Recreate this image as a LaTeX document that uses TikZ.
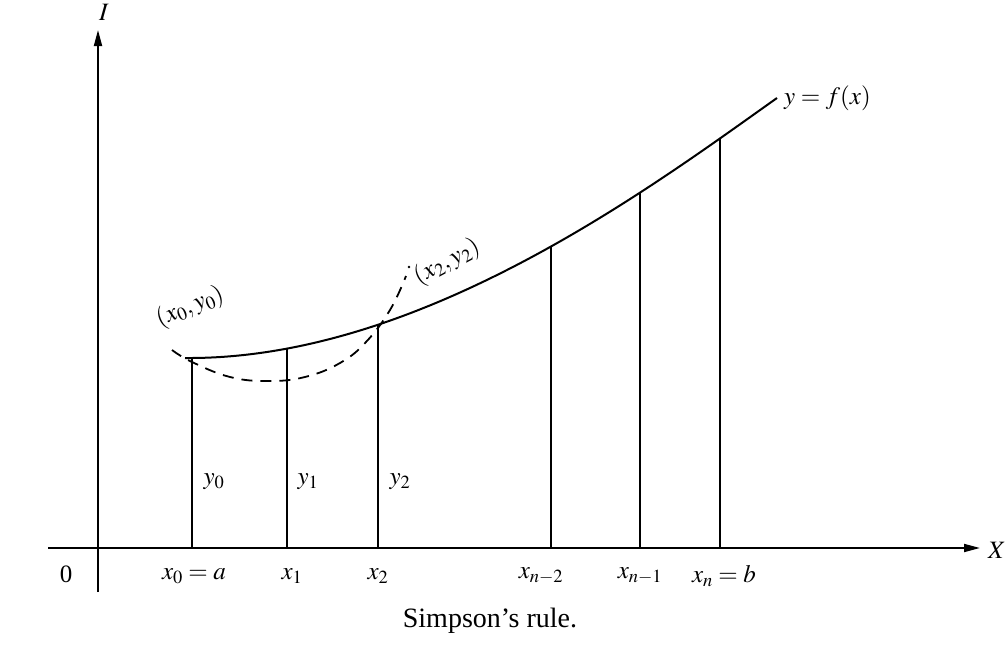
\documentclass[tikz,border=0pt]{standalone}
\usepackage{mathptmx}
\usepackage{fix-cm}
\usepackage{fontspec}
\setmainfont{Liberation Serif}
\usetikzlibrary{arrows.meta,intersections}
\begin{document}
\begin{tikzpicture}[x=1pt,y=-1pt,
  ax/.style={line width=1.8pt,-{Triangle[length=16pt,width=8pt]}},
  ord/.style={line width=1.8pt},
  crv/.style={line width=2pt},
  dsh/.style={line width=1.8pt,dash pattern=on 11pt off 8pt},
  lbl/.style={font=\fontsize{25}{29}\selectfont,inner sep=1pt},
  cpt/.style={font=\fontsize{28}{32}\selectfont,inner sep=1pt}]
\useasboundingbox (0,0) rectangle (1005,645);
% axes
\coordinate (xs) at (48,548);
\coordinate (xe) at (980,548);
\coordinate (ys) at (98,592);
\coordinate (ye) at (98,30);
\draw[ax] (xs) -- (xe);
\draw[ax] (ys) -- (ye);
\node[lbl] (Ilab) at (104,12) {$I$};
\node[lbl] (Xlab) at (997,550) {$X$};
\node[lbl] (zero) at (66,574) {0};
% curve
\draw[crv,name path=curve] (185,358) .. controls (420,360) and (650,188) .. (777,98);
% ordinates
\foreach \i/\xx in {0/192,1/287,2/378,3/551,4/640,5/720}{
  \coordinate (b\i) at (\xx,548);
  \path[name path=v\i] (\xx,548) -- (\xx,60);
  \path[name intersections={of=curve and v\i,by={t\i}}];
  \draw[ord] (t\i) -- (b\i);
}
% dashed parabola
\draw[dsh] plot[smooth,tension=0.7] coordinates {(172,350) (192,362) (230,377) (268,381) (305,377) (340,363) (366,342) (390,310) (406,276)};
\fill (409,267) circle (1.4pt);
% labels
\node[lbl,rotate=22] (p0) at (190,307) {$(x_0,y_0)$};
\node[lbl,rotate=28] (p2) at (447,262) {$(x_2,y_2)$};
\node[lbl,anchor=west] (f) at (783,98) {$y=f(x)$};
\node[lbl] (y0) at (214,482) {$y_0$};
\node[lbl] (y1) at (308,482) {$y_1$};
\node[lbl] (y2) at (400,482) {$y_2$};
\node[lbl] (x0) at (194,576) {$x_0=a$};
\node[lbl] (x1) at (292,576) {$x_1$};
\node[lbl] (x2) at (378,576) {$x_2$};
\node[lbl] (x3) at (541,576) {$x_{n-2}$};
\node[lbl] (x4) at (640,576) {$x_{n-1}$};
\node[lbl] (x5) at (724,576) {$x_n=b$};
\node[cpt] (cap) at (490,621) {Simpson’s rule.};
\end{tikzpicture}
\end{document}
